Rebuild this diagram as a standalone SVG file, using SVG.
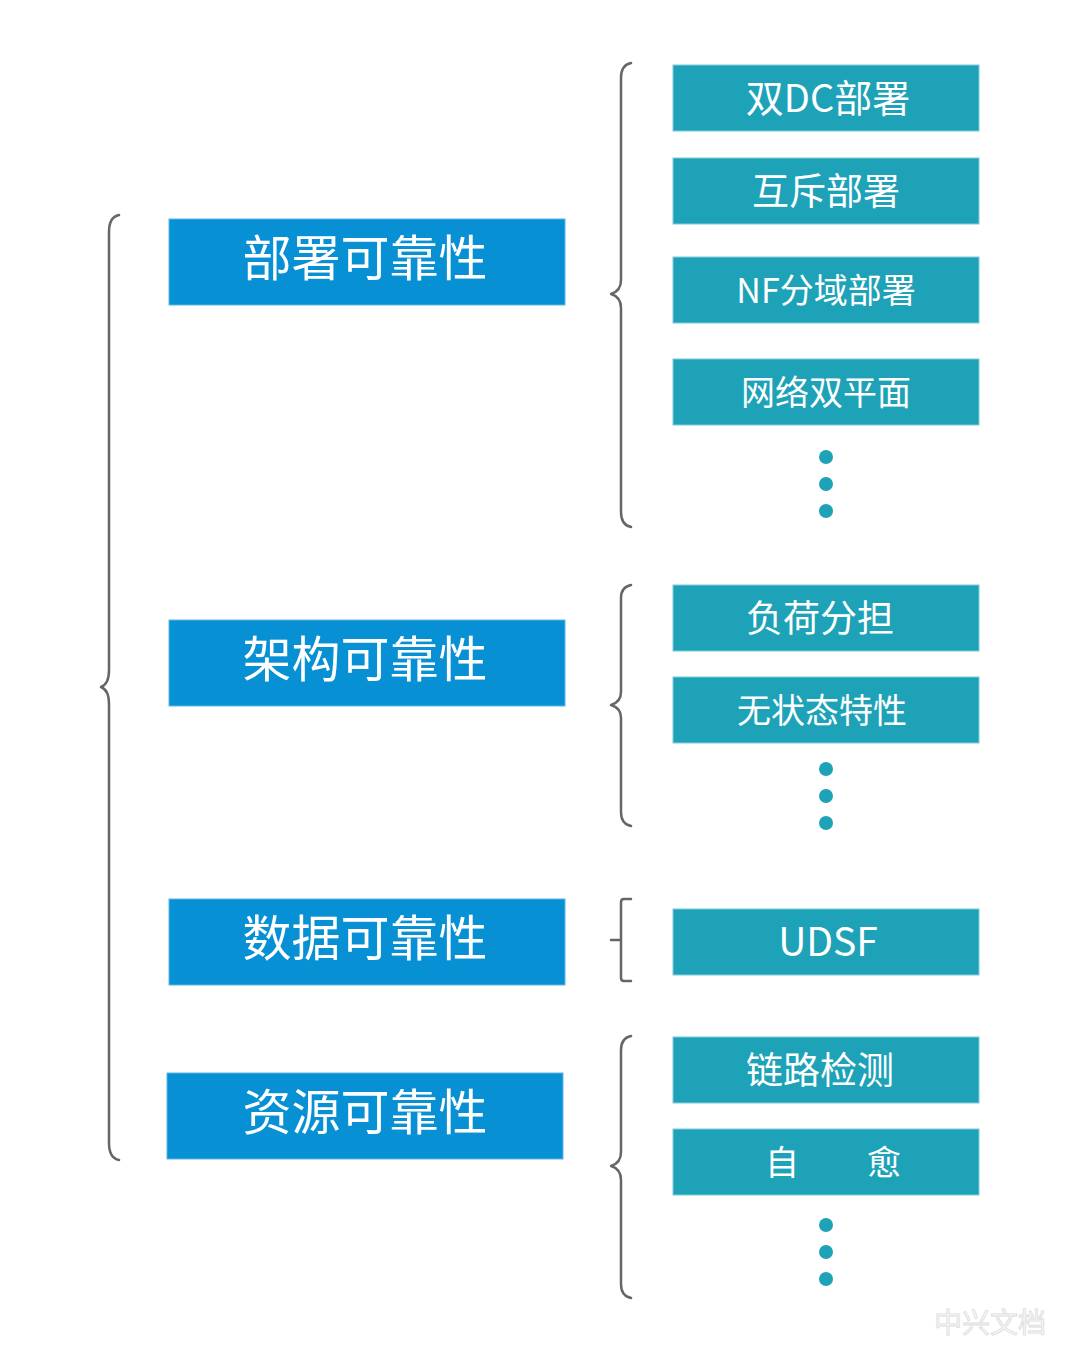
<svg xmlns="http://www.w3.org/2000/svg" width="1080" height="1362" viewBox="0 0 1080 1362">
<style>
.main{fill:#0790d4;stroke:#5cb8e6;stroke-width:1}
.sub{fill:#1ea2b8;stroke:#7ccad6;stroke-width:1}
.mt{font-family:"Noto Sans CJK SC","Noto Sans",sans-serif;font-size:49px;fill:#fff;text-anchor:middle}
.st{font-family:"Noto Sans CJK SC","Noto Sans",sans-serif;font-size:34px;fill:#fff;text-anchor:middle}
.s4{font-size:37px}
.br{fill:none;stroke:#666;stroke-width:2.5;stroke-linecap:round;stroke-linejoin:round}
.dot{fill:#1ea2b8}
</style>
<rect width="1080" height="1362" fill="#fff"/>
<g id="connectors">
<path class="br" d="M119,215 Q109,217 109,232 L109,670 Q109,684 101,687 Q109,690 109,704 L109,1143 Q109,1158 119,1160"/>
<path class="br" d="M631,63 Q621,65 621,78 L621,280 Q621,291 611,294 Q621,297 621,308 L621,512 Q621,525 631,527"/>
<path class="br" d="M631,585 Q621,587 621,598 L621,692 Q621,702 611,705 Q621,708 621,718 L621,812 Q621,824 631,826"/>
<path class="br" d="M631,899 L624,899 Q621,899 621,902 L621,978 Q621,981 624,981 L631,981 M611,940 L621,940"/>
<path class="br" d="M631,1036 Q621,1038 621,1050 L621,1152 Q621,1163 611,1166 Q621,1169 621,1180 L621,1284 Q621,1296 631,1298"/>
</g>
<g id="n-bushu"><rect class="main" x="169" y="219" width="396" height="86"/><text class="mt" x="365" y="276">部署可靠性</text></g>
<g id="n-jiagou"><rect class="main" x="169" y="620" width="396" height="86"/><text class="mt" x="365" y="677">架构可靠性</text></g>
<g id="n-shuju"><rect class="main" x="169" y="899" width="396" height="86"/><text class="mt" x="365" y="956">数据可靠性</text></g>
<g id="n-ziyuan"><rect class="main" x="167" y="1073" width="396" height="86"/><text class="mt" x="365" y="1130">资源可靠性</text></g>

<g id="n-shuangdc"><rect class="sub" x="673" y="65" width="306" height="66"/><text class="st" x="828" y="112" style="font-size:38px">双DC部署</text></g>
<g id="n-huchi"><rect class="sub" x="673" y="158" width="306" height="66"/><text class="st s4" x="826" y="205">互斥部署</text></g>
<g id="n-nf"><rect class="sub" x="673" y="257" width="306" height="66"/><text class="st" x="826" y="303">NF分域部署</text></g>
<g id="n-wangluo"><rect class="sub" x="673" y="359" width="306" height="66"/><text class="st" x="826" y="405">网络双平面</text></g>
<g id="dots1"><circle class="dot" cx="826" cy="457" r="7"/><circle class="dot" cx="826" cy="484" r="7"/><circle class="dot" cx="826" cy="511" r="7"/></g>

<g id="n-fuhe"><rect class="sub" x="673" y="585" width="306" height="66"/><text class="st s4" x="820" y="632">负荷分担</text></g>
<g id="n-wuzhuangtai"><rect class="sub" x="673" y="677" width="306" height="66"/><text class="st" x="822" y="723">无状态特性</text></g>
<g id="dots2"><circle class="dot" cx="826" cy="769" r="7"/><circle class="dot" cx="826" cy="796" r="7"/><circle class="dot" cx="826" cy="823" r="7"/></g>

<g id="n-udsf"><rect class="sub" x="673" y="909" width="306" height="66"/><text class="st" x="828" y="956" style="font-size:39px">UDSF</text></g>

<g id="n-lianlu"><rect class="sub" x="673" y="1037" width="306" height="66"/><text class="st s4" x="820" y="1084">链路检测</text></g>
<g id="n-ziyu"><rect class="sub" x="673" y="1129" width="306" height="66"/><text class="st" x="833" y="1175">自　　愈</text></g>
<g id="dots3"><circle class="dot" cx="826" cy="1225" r="7"/><circle class="dot" cx="826" cy="1252" r="7"/><circle class="dot" cx="826" cy="1279" r="7"/></g>

<text x="990" y="1333" font-family="'Noto Sans CJK SC',sans-serif" font-size="28" text-anchor="middle" fill="#f7f7f7" stroke="#dddddd" stroke-width="0.8">中兴文档</text>
</svg>
